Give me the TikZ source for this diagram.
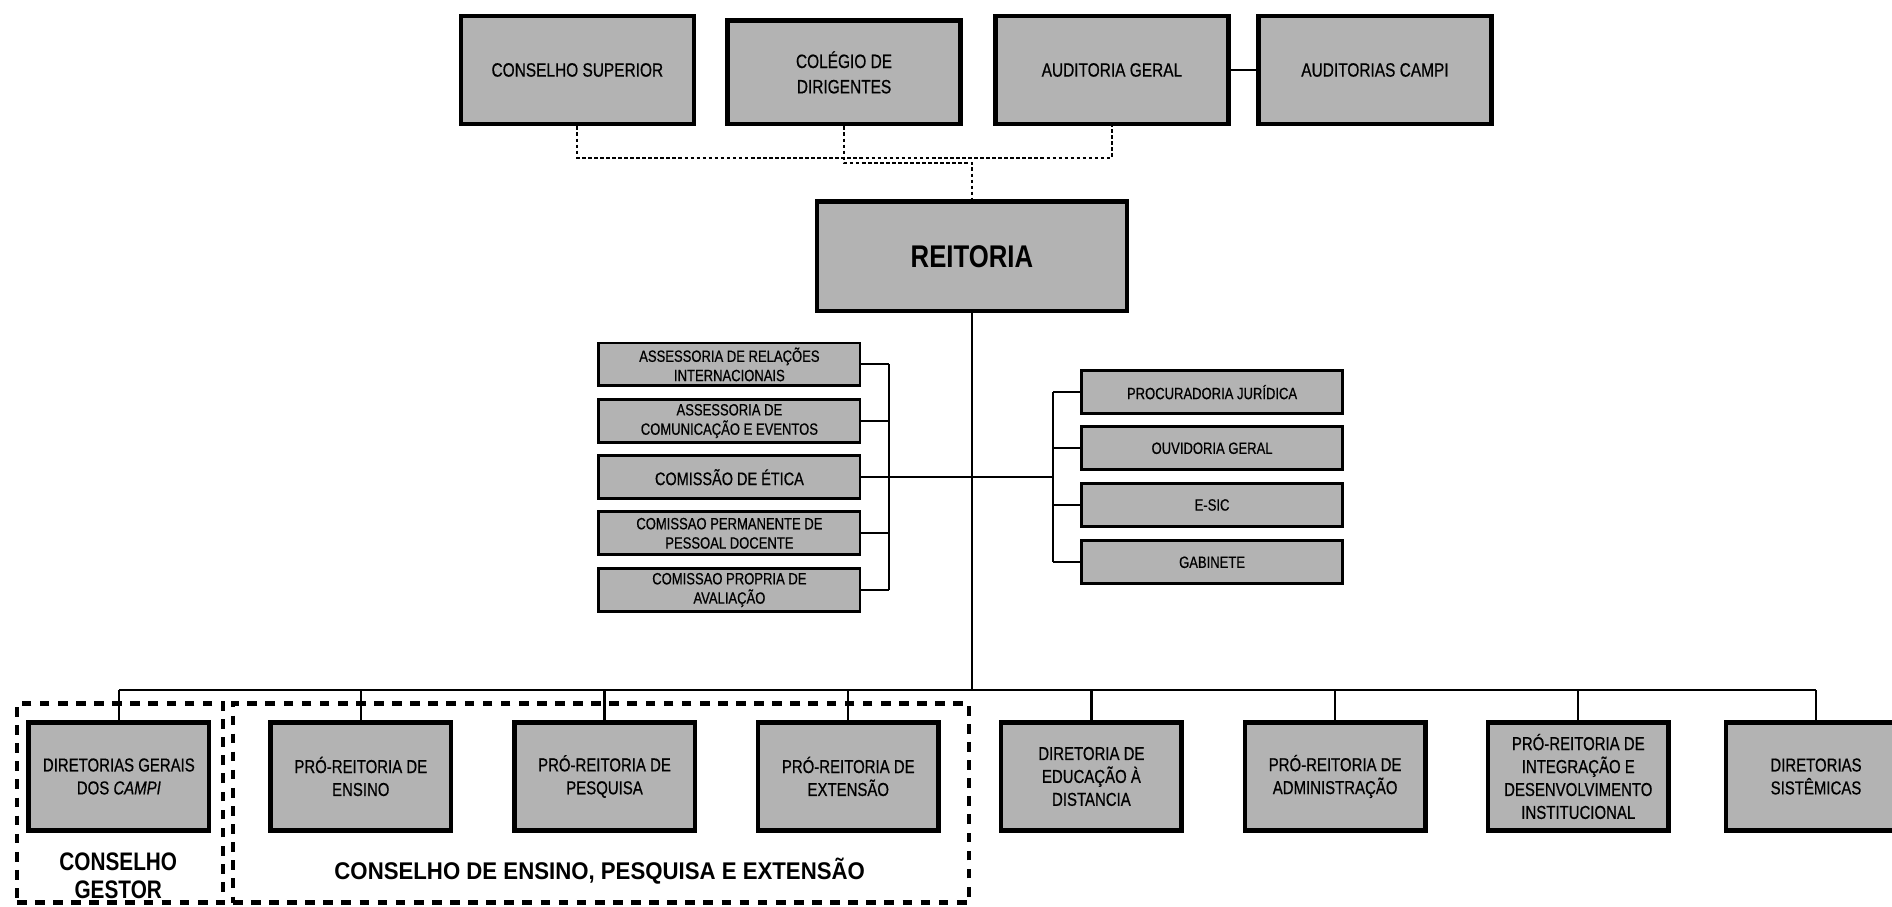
\documentclass[tikz,border=0pt]{standalone}
\usepackage{fontspec}
\setmainfont{Liberation Sans}
\newfontfamily\nf[FakeStretch=0.8,FakeBold=0.6]{Liberation Sans}
\newfontfamily\gf[FakeStretch=0.82]{Liberation Sans}
\newfontfamily\cf[FakeStretch=0.92]{Liberation Sans}
\definecolor{boxgray}{RGB}{179,179,179}
\begin{document}
\begin{tikzpicture}[x=1pt,y=-1pt,
  bigbox/.style={draw=black, line width=3.6pt, fill=boxgray, inner sep=0pt, align=center,
    minimum width=193pt, minimum height=90pt, text=black, font=\nf\fontsize{16}{21}\selectfont},
  botbox/.style={bigbox, minimum width=149.5pt, minimum height=89.5pt, font=\nf\fontsize{15.5}{19}\selectfont},
  smallbox/.style={draw=black, line width=2.4pt, fill=boxgray, inner sep=0pt, align=center,
    minimum width=216.5pt, minimum height=35.5pt, text=black, font=\nf\fontsize{13.5}{16}\selectfont},
  link/.style={draw=black, line width=1.8pt},
  dotline/.style={draw=black, line width=1.6pt, dash pattern=on 3pt off 2pt},
  dashbox/.style={draw=black, line width=3.6pt, dash pattern=on 8pt off 7pt},
  lbl/.style={inner sep=0pt, align=center, text=black}]
\useasboundingbox (0,0) rectangle (1568,751);

% top row
\node[bigbox] (cs) at (478.5,58) {CONSELHO SUPERIOR};
\node[bigbox, minimum height=86pt] (cd) at (699.5,60) {COLÉGIO DE\\DIRIGENTES};
\node[bigbox] (ag) at (921.5,58) {AUDITORIA GERAL};
\node[bigbox] (ac) at (1139.5,58) {AUDITORIAS CAMPI};
\draw[link] (ag.east) -- (ac.west);

% reitoria
\node[bigbox, minimum width=257pt, minimum height=91pt, font=\gf\bfseries\fontsize{26}{30}\selectfont] (re) at (805.5,212.5) {REITORIA};

\draw[dotline] (cs.south) -- (cs.south |- 0,131) -| (ag.south);
\draw[dotline] (cd.south) -- (cd.south |- 0,135) -| (re.north);

% left group
\node[smallbox] (l1) at (604.5,302) {ASSESSORIA DE RELAÇÕES\\INTERNACIONAIS};
\node[smallbox] (l2) at (604.5,349) {ASSESSORIA DE\\COMUNICAÇÃO E EVENTOS};
\node[smallbox, font=\nf\fontsize{15}{17}\selectfont] (l3) at (604.5,395.5) {COMISSÃO DE ÉTICA};
\node[smallbox] (l4) at (604.5,442) {COMISSAO PERMANENTE DE\\PESSOAL DOCENTE};
\node[smallbox] (l5) at (604.5,489) {COMISSAO PROPRIA DE\\AVALIAÇÃO};

% right group
\node[smallbox] (r1) at (1004.5,325) {PROCURADORIA JURÍDICA};
\node[smallbox] (r2) at (1004.5,371.5) {OUVIDORIA GERAL};
\node[smallbox] (r3) at (1004.5,418.5) {E-SIC};
\node[smallbox] (r4) at (1004.5,466) {GABINETE};

\coordinate (lvt) at (737,302);
\coordinate (lvb) at (737,489);
\coordinate (rvt) at (873,325);
\coordinate (rvb) at (873,466);
\draw[link] (lvt) -- (lvb);
\draw[link] (rvt) -- (rvb);
\foreach \n in {l1,l2,l3,l4,l5} {\draw[link] (\n.east) -- (\n.east -| lvt);}
\foreach \n in {r1,r2,r3,r4} {\draw[link] (\n.west) -- (\n.west -| rvt);}
\draw[link] (l3.east) -- (l3.east -| rvt);

% bottom row
\node[botbox] (b1) at (98.5,643.5) {DIRETORIAS GERAIS\\DOS \textit{CAMPI}};
\node[botbox] (b2) at (299,643.5) {PRÓ-REITORIA DE\\ENSINO};
\node[botbox] (b3) at (501,643.5) {PRÓ-REITORIA DE\\PESQUISA};
\node[botbox] (b4) at (703,643.5) {PRÓ-REITORIA DE\\EXTENSÃO};
\node[botbox] (b5) at (904.5,643.5) {DIRETORIA DE\\EDUCAÇÃO À\\DISTANCIA};
\node[botbox] (b6) at (1106.5,643.5) {PRÓ-REITORIA DE\\ADMINISTRAÇÃO};
\node[botbox] (b7) at (1308,643.5) {PRÓ-REITORIA DE\\INTEGRAÇÃO E\\DESENVOLVIMENTO\\INSTITUCIONAL};
\node[botbox] (b8) at (1505,643.5) {DIRETORIAS\\SISTÊMICAS};

\coordinate (barL) at (98.5,572);
\coordinate (barR) at (1505,572);
\draw[link] (barL) -- (barR);
\draw[link] (re.south) -- (re.south |- barL);
\foreach \n in {b1,b2,b3,b4,b5,b6,b7,b8} {\draw[link] (\n.north) -- (\n.north |- barL);}

% councils
\node[dashbox, minimum width=171pt, minimum height=165pt, inner sep=0pt] (cg) at (99.5,665.5) {};
\node[dashbox, minimum width=610pt, minimum height=165pt, inner sep=0pt] (ce) at (498,665.5) {};
\node[lbl, font=\gf\bfseries\fontsize{21}{23}\selectfont] (cgl) at (98,726) {CONSELHO\\GESTOR};
\node[lbl, font=\cf\bfseries\fontsize{20}{24}\selectfont] (cel) at (497,722) {CONSELHO DE ENSINO, PESQUISA E EXTENSÃO};
\end{tikzpicture}
\end{document}
